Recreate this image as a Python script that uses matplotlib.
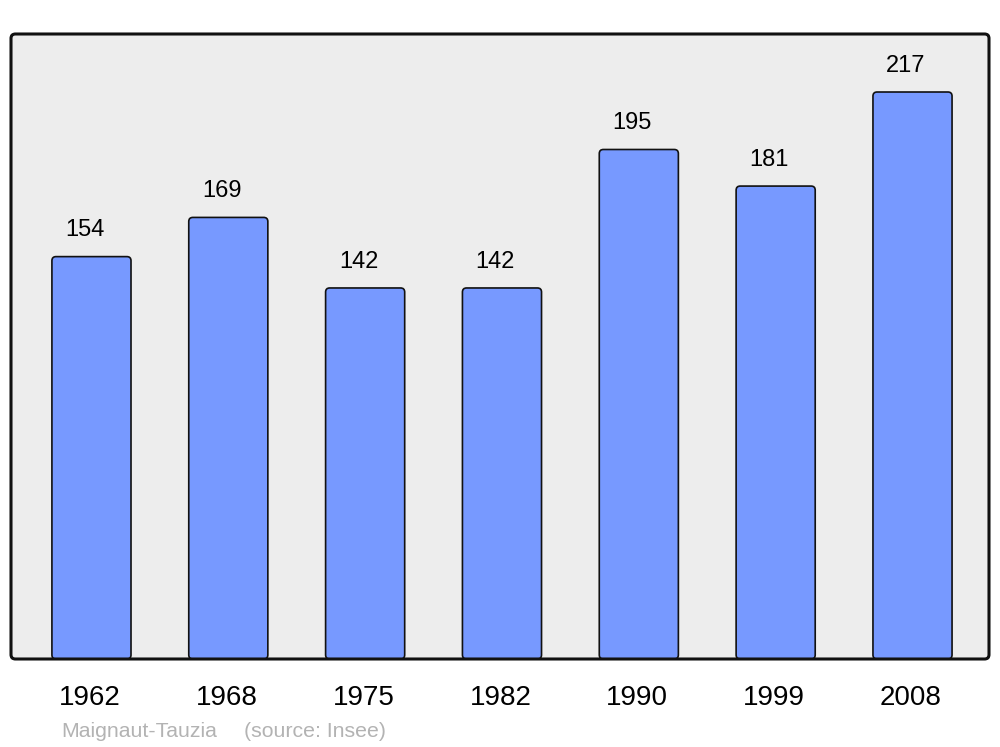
import matplotlib.pyplot as plt
from matplotlib.patches import FancyBboxPatch

years = ["1962", "1968", "1975", "1982", "1990", "1999", "2008"]
population = [154, 169, 142, 142, 195, 181, 217]

plt.rcParams['font.family'] = ['Liberation Sans', 'DejaVu Sans']

def main():
	fig = plt.figure(figsize=(10, 7.47), dpi=100)
	ax = fig.add_axes([11 / 1000, 88 / 747, 978 / 1000, 625 / 747])
	ax.set_xlim(-0.588, 6.559)
	ax.set_ylim(0, 239.2)
	ax.axis('off')

	# background frame
	back = FancyBboxPatch((0, 0), 1, 1, boxstyle="round,pad=0,rounding_size=0.0045",
		mutation_aspect=978 / 625, transform=ax.transAxes,
		facecolor='#ededed', edgecolor='none', zorder=0, clip_on=False)
	ax.add_patch(back)
	frame = FancyBboxPatch((0, 0), 1, 1, boxstyle="round,pad=0,rounding_size=0.0045",
		mutation_aspect=978 / 625, transform=ax.transAxes,
		facecolor='none', edgecolor='#111111', linewidth=2.2, zorder=5, clip_on=False)
	ax.add_patch(frame)

	x = list(range(len(years)))
	bars = ax.bar(x, population, width=0.578)
	aspect = (978 / 7.147) / (625 / 239.2)
	for b in bars:
		bx, by = b.get_x(), b.get_y()
		w, h = b.get_width(), b.get_height()
		b.remove()
		ax.add_patch(FancyBboxPatch((bx, by), w, h,
			boxstyle="round,pad=0,rounding_size=0.03", mutation_aspect=aspect,
			facecolor='#7799ff', edgecolor='#111111', linewidth=1.2, zorder=2))

	for i, v in enumerate(population):
		ax.annotate(str(v), xy=(i - 0.04, v), xytext=(-0.8, 14.5), textcoords='offset points',
			ha='center', va='baseline', fontsize=17, color='black')
		ax.annotate(years[i], xy=(i, 0), xycoords=('data', 'axes fraction'),
			xytext=(-1.2, -33), textcoords='offset points',
			ha='center', va='baseline', fontsize=20, color='black', annotation_clip=False)

	fig.text(0.061, 1 - 737 / 747, "Maignaut-Tauzia", fontsize=15.3, color='#b3b3b3', va='baseline')
	fig.text(0.244, 1 - 737 / 747, "(source: Insee)", fontsize=15.3, color='#b3b3b3', va='baseline')

	fig.savefig('out.png', dpi=100)

if __name__ == "__main__":
	main()
